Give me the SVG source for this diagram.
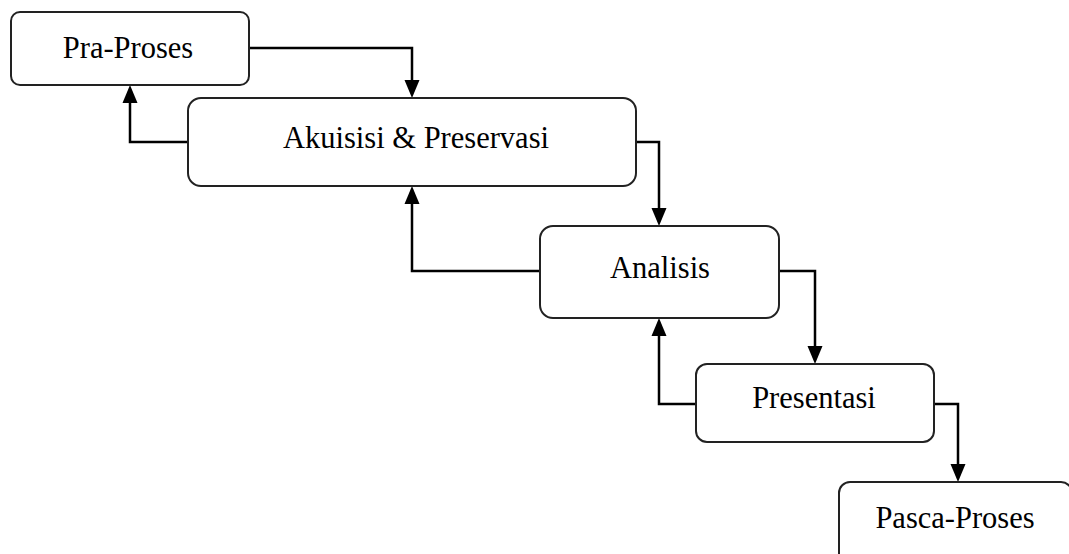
<svg xmlns="http://www.w3.org/2000/svg" width="1069" height="554" viewBox="0 0 1069 554">
<defs>
<style>
.box{fill:#fff;stroke:#222;stroke-width:2}
.lbl{font-family:"Liberation Serif","Times New Roman",serif;font-size:30.5px;fill:#000;text-anchor:middle}
.con{fill:none;stroke:#000;stroke-width:2.5}
.head{fill:#000}
</style>
</defs>
<rect width="1069" height="554" fill="#fff"/>
<g id="connectors">
<path class="con" d="M249,48 H412 V80"/>
<polygon class="head" points="404.5,80 419.5,80 412,98"/>
<path class="con" d="M188,142 H130 V103"/>
<polygon class="head" points="122.5,103 137.5,103 130,85"/>
<path class="con" d="M636,142 H659 V208"/>
<polygon class="head" points="651.5,208 666.5,208 659,226"/>
<path class="con" d="M540,271 H412 V204"/>
<polygon class="head" points="404.5,204 419.5,204 412,186"/>
<path class="con" d="M779,271 H815 V346"/>
<polygon class="head" points="807.5,346 822.5,346 815,364"/>
<path class="con" d="M696,404 H659 V336"/>
<polygon class="head" points="651.5,336 666.5,336 659,318"/>
<path class="con" d="M934,404 H958 V464"/>
<polygon class="head" points="950.5,464 965.5,464 958,482"/>
</g>
<g id="pra-proses">
<rect class="box" x="11" y="12" width="238" height="73" rx="9"/>
<text class="lbl" x="128" y="58">Pra-Proses</text>
</g>
<g id="akuisisi">
<rect class="box" x="188" y="98" width="448" height="88" rx="13"/>
<text class="lbl" x="416" y="148">Akuisisi &amp; Preservasi</text>
</g>
<g id="analisis">
<rect class="box" x="540" y="226" width="239" height="92" rx="13"/>
<text class="lbl" x="660" y="278">Analisis</text>
</g>
<g id="presentasi">
<rect class="box" x="696" y="364" width="238" height="78" rx="11"/>
<text class="lbl" x="814" y="408">Presentasi</text>
</g>
<g id="pasca-proses">
<rect class="box" x="839" y="482" width="233" height="90" rx="11"/>
<text class="lbl" x="955" y="528">Pasca-Proses</text>
</g>
</svg>
